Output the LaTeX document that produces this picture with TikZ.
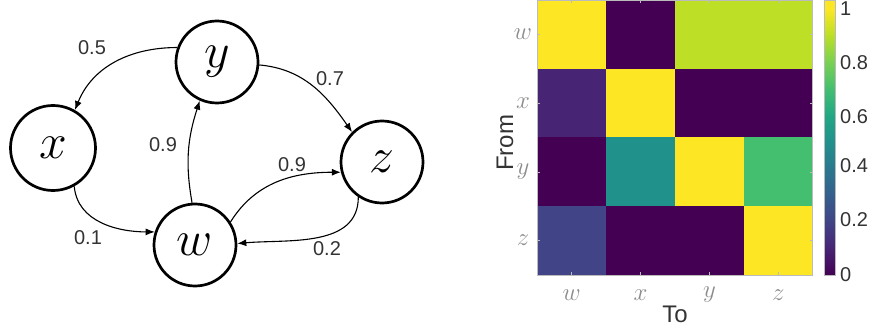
\documentclass[tikz,border=0pt]{standalone}
\usepackage{fontspec}
\setsansfont{Liberation Sans}
\usetikzlibrary{arrows.meta}

% viridis colour map, sampled every 0.1
\definecolor{v0}{HTML}{440154}
\definecolor{v1}{HTML}{482475}
\definecolor{v2}{HTML}{414487}
\definecolor{v3}{HTML}{355F8D}
\definecolor{v4}{HTML}{2A788E}
\definecolor{v5}{HTML}{21918C}
\definecolor{v6}{HTML}{22A884}
\definecolor{v7}{HTML}{44BF70}
\definecolor{v8}{HTML}{7AD151}
\definecolor{v9}{HTML}{BDDF26}
\definecolor{v10}{HTML}{FDE725}
\definecolor{axisgray}{HTML}{BBBBBB}
\definecolor{labelgray}{HTML}{333333}

% large math letter for the graph states
\newcommand{\statelabel}[1]{\scalebox{2}{$#1$}}

\begin{document}
\begin{tikzpicture}[x=1pt,y=1pt,
  state/.style={circle,draw,line width=2.7pt,minimum size=82pt,inner sep=0pt,
    font=\fontsize{23}{23}\selectfont},
  edge/.style={line width=1.1pt,-{Latex[length=9pt,width=7pt]}},
  wlabel/.style={font=\sffamily\fontsize{20}{20}\selectfont,text=labelgray,inner sep=0pt},
  ticklabel/.style={font=\fontsize{24}{24}\selectfont,text=black!45,inner sep=0pt},
  cbarlabel/.style={font=\sffamily\fontsize{20}{20}\selectfont,text=labelgray,anchor=west,inner sep=0pt},
  axislabel/.style={font=\sffamily\fontsize{24}{24}\selectfont,text=labelgray,inner sep=0pt}
]
\useasboundingbox (0,0) rectangle (872,327);

% ---------- transition graph ----------
\node[state] (y) at (217,265) {\statelabel{y}};
\node[state,minimum size=85pt] (x) at (53,179) {\statelabel{x}};
\node[state] (z) at (382,165) {\statelabel{z}};
\node[state] (w) at (195,82) {\statelabel{w}};

\draw[edge] (y.160) to[out=180,in=68] (x.60);
\draw[edge] (y.-4) to[out=-5,in=125] (z.135);
\draw[edge] (w.94) to[out=100,in=252] (y.246);
\draw[edge] (w.33) to[out=58,in=180] (z.194);
\draw[edge] (z.236) to[out=270,in=5] (w.2);
\draw[edge] (x.-61) to[out=-85,in=180] (w.162);

\node[wlabel] (l-yx) at (92,279) {0.5};
\node[wlabel] (l-yz) at (330,248) {0.7};
\node[wlabel] (l-wy) at (163,182) {0.9};
\node[wlabel] (l-wz) at (292,162) {0.9};
\node[wlabel] (l-zw) at (327,78) {0.2};
\node[wlabel] (l-xw) at (88,89) {0.1};

% ---------- transition matrix ----------
\def\cw{68.85}
\def\ch{68.75}
\def\mx{537.3}
\def\my{327}
\foreach \row/\cols in {0/{v10,v0,v9,v9},1/{v1,v10,v0,v0},2/{v0,v5,v10,v7},3/{v2,v0,v0,v10}}{
  \foreach \c [count=\col from 0] in \cols {
    \fill[\c] (\mx+\col*\cw,\my-\row*\ch) rectangle (\mx+\col*\cw+\cw,\my-\row*\ch-\ch);
  }
}
\draw[axisgray,line width=0.8pt] (\mx,\my-4*\ch) rectangle (\mx+4*\cw,\my);
\foreach \i in {0,1,2,3}{
  \draw[axisgray,line width=0.6pt] (\mx+\i*\cw+0.5*\cw,\my-4*\ch) -- ++(0,3);
  \draw[axisgray,line width=0.6pt] (\mx+\i*\cw+0.5*\cw,\my) -- ++(0,-3);
  \draw[axisgray,line width=0.6pt] (\mx,\my-\i*\ch-0.5*\ch) -- ++(3,0);
  \draw[axisgray,line width=0.6pt] (\mx+4*\cw,\my-\i*\ch-0.5*\ch) -- ++(-3,0);
}

% row and column tick labels
\node[ticklabel] (rw) at (523,\my-0.5*\ch) {$w$};
\node[ticklabel] (rx) at (523,\my-1.5*\ch) {$x$};
\node[ticklabel] (ry) at (523,\my-2.5*\ch) {$y$};
\node[ticklabel] (rz) at (523,\my-3.5*\ch) {$z$};
\node[ticklabel] (cw) at (\mx+0.5*\cw,32) {$w$};
\node[ticklabel] (cx) at (\mx+1.5*\cw,32) {$x$};
\node[ticklabel] (cy) at (\mx+2.5*\cw,32) {$y$};
\node[ticklabel] (cz) at (\mx+3.5*\cw,32) {$z$};

\node[axislabel] (to) at (675,13) {To};
\node[axislabel,rotate=90] (from) at (505,184) {From};

% ---------- colour bar ----------
\def\bx{824}
\def\bw{11}
\def\bz{52}
\def\bu{26.65}
\foreach \a [evaluate=\a as \b using int(\a+1)] in {0,...,9}{
  \shade[bottom color=v\a,top color=v\b] (\bx,\bz+\a*\bu) rectangle (\bx+\bw,\bz+\a*\bu+\bu+0.3);
}
\fill[v10] (\bx,\bz+10*\bu) rectangle (\bx+\bw,327);
\draw[axisgray,line width=0.8pt] (\bx,\bz) rectangle (\bx+\bw,327);

\node[cbarlabel] (t0) at (840,52) {0};
\node[cbarlabel] (t2) at (840,107) {0.2};
\node[cbarlabel] (t4) at (840,161) {0.4};
\node[cbarlabel] (t6) at (840,210) {0.6};
\node[cbarlabel] (t8) at (840,264) {0.8};
\node[cbarlabel] (t10) at (840,318) {1};
\end{tikzpicture}
\end{document}
